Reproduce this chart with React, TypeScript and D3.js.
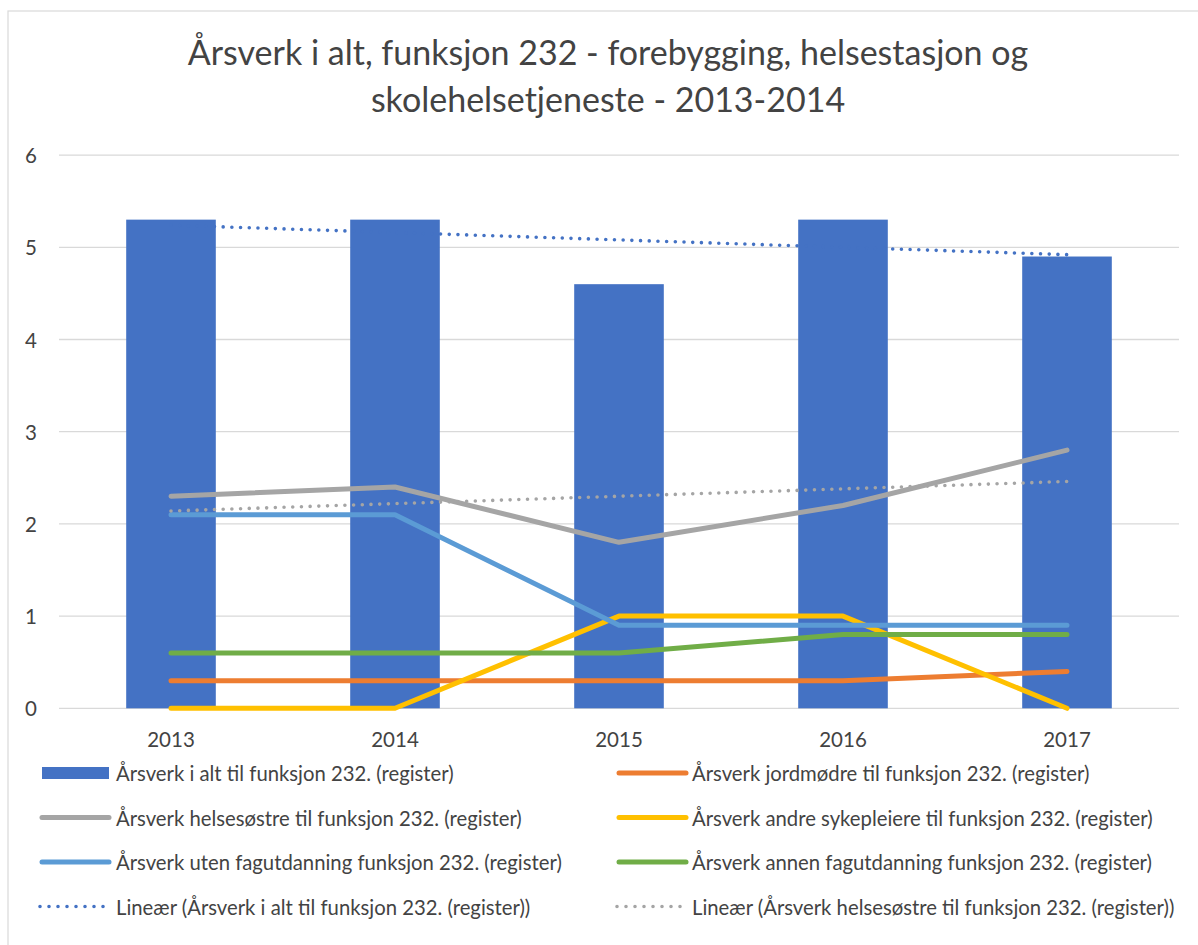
import * as d3 from "d3";

const years = ["2013", "2014", "2015", "2016", "2017"];
const totalValues = [5.3, 5.3, 4.6, 5.3, 4.9];
const jordmodreValues = [0.3, 0.3, 0.3, 0.3, 0.4];
const helsesostreValues = [2.3, 2.4, 1.8, 2.2, 2.8];
const andreSykepleiereValues = [0, 0, 1, 1, 0];
const utenFagValues = [2.1, 2.1, 0.9, 0.9, 0.9];
const annenFagValues = [0.6, 0.6, 0.6, 0.8, 0.8];
const yTicks = [0, 1, 2, 3, 4, 5, 6];

const titleLines = [
  "Årsverk i alt, funksjon 232 - forebygging, helsestasjon og",
  "skolehelsetjeneste - 2013-2014",
];

const W = 1198;
const H = 945;
const FONT = "Lato, 'Open Sans', sans-serif";
const TEXT = "#434343";

// linear trend like excel's "Lineær" trendline
function trend(values: number[]) {
  const xs = values.map((_, i) => i);
  const mx = d3.mean(xs) as number;
  const my = d3.mean(values) as number;
  const slope =
    d3.sum(xs, (x, i) => (x - mx) * (values[i] - my)) /
    d3.sum(xs, (x) => (x - mx) * (x - mx));
  return xs.map((x) => my + slope * (x - mx));
}

const lineSeries = [
  { name: "Årsverk jordmødre til funksjon 232. (register)", values: jordmodreValues, color: "#ED7D31" },
  { name: "Årsverk helsesøstre til funksjon 232. (register)", values: helsesostreValues, color: "#A5A5A5" },
  { name: "Årsverk andre sykepleiere til funksjon 232. (register)", values: andreSykepleiereValues, color: "#FFC000" },
  { name: "Årsverk uten fagutdanning funksjon 232. (register)", values: utenFagValues, color: "#5B9BD5" },
  { name: "Årsverk annen fagutdanning funksjon 232. (register)", values: annenFagValues, color: "#70AD47" },
];

const trendSeries = [
  { name: "Lineær (Årsverk i alt til funksjon 232. (register))", values: trend(totalValues), color: "#4472C4" },
  { name: "Lineær (Årsverk helsesøstre til funksjon 232. (register))", values: trend(helsesostreValues), color: "#A5A5A5" },
];

type LegendItem = { name: string; color: string; kind: "bar" | "line" | "dot" };

const legendItems: LegendItem[] = [
  { name: "Årsverk i alt til funksjon 232. (register)", color: "#4472C4", kind: "bar" },
  { ...lineSeries[0], kind: "line" },
  { ...lineSeries[1], kind: "line" },
  { ...lineSeries[2], kind: "line" },
  { ...lineSeries[3], kind: "line" },
  { ...lineSeries[4], kind: "line" },
  { ...trendSeries[0], kind: "dot" },
  { ...trendSeries[1], kind: "dot" },
];

export default function App() {
  const x = d3.scaleBand().domain(years).range([59, 1179]).paddingInner(0).paddingOuter(0);
  const y = d3.scaleLinear().domain([0, 6]).range([708.3, 155.1]);
  const cx = (i: number) => (x(years[i]) as number) + x.bandwidth() / 2;
  const barW = x.bandwidth() * 0.4;

  const line = d3
    .line<number>()
    .x((_, i) => cx(i))
    .y((d) => y(d));

  return (
    <svg width={W} height={H} style={{ position: "absolute", left: 0, top: 0, background: "#fff" }}>
      <rect x={8} y={11} width={W} height={H} fill="#fff" stroke="#D9D9D9" strokeWidth={1.2} />

      {titleLines.map((t, i) => (
        <text
          key={t}
          x={608}
          y={65 + i * 47}
          textAnchor="middle"
          fontFamily={FONT}
          fontSize={34}
          fill={TEXT}
        >
          {t}
        </text>
      ))}

      {yTicks.map((t) => (
        <g key={t}>
          <line x1={59} x2={1179} y1={y(t)} y2={y(t)} stroke="#D9D9D9" strokeWidth={1.3} />
          <text
            x={31}
            y={y(t)}
            textAnchor="middle"
            dominantBaseline="central"
            fontFamily={FONT}
            fontSize={20.5}
            fill={TEXT}
          >
            {t}
          </text>
        </g>
      ))}

      {years.map((yr, i) => (
        <text
          key={yr}
          x={cx(i)}
          y={747}
          textAnchor="middle"
          fontFamily={FONT}
          fontSize={20.5}
          fill={TEXT}
        >
          {yr}
        </text>
      ))}

      {totalValues.map((v, i) => (
        <rect
          key={i}
          x={cx(i) - barW / 2}
          y={y(v)}
          width={barW}
          height={y(0) - y(v)}
          fill="#4472C4"
        />
      ))}

      {lineSeries.map((s) => (
        <path
          key={s.name}
          d={line(s.values) as string}
          fill="none"
          stroke={s.color}
          strokeWidth={5}
          strokeLinecap="round"
          strokeLinejoin="round"
        />
      ))}

      {trendSeries.map((s) => (
        <path
          key={s.name}
          d={line(s.values) as string}
          fill="none"
          stroke={s.color}
          strokeWidth={3.6}
          strokeDasharray="0 8.7"
          strokeLinecap="round"
        />
      ))}

      {legendItems.map((item, i) => {
        const col = i % 2;
        const row = Math.floor(i / 2);
        const ly = 773 + row * 44.5;
        const sx = col === 0 ? 40 : 617;
        const tx = col === 0 ? 116 : 692;
        return (
          <g key={item.name}>
            {item.kind === "bar" && (
              <rect x={sx + 2} y={ly - 6} width={67} height={12} fill={item.color} />
            )}
            {item.kind === "line" && (
              <line
                x1={sx + 2}
                x2={sx + 69}
                y1={ly}
                y2={ly}
                stroke={item.color}
                strokeWidth={5}
                strokeLinecap="round"
              />
            )}
            {item.kind === "dot" && (
              <line
                x1={sx}
                x2={sx + 64}
                y1={ly}
                y2={ly}
                stroke={item.color}
                strokeWidth={3.6}
                strokeDasharray="0 9"
                strokeLinecap="round"
              />
            )}
            <text
              x={tx}
              y={ly}
              dominantBaseline="central"
              fontFamily={FONT}
              fontSize={20.3}
              fill={TEXT}
            >
              {item.name}
            </text>
          </g>
        );
      })}
    </svg>
  );
}
